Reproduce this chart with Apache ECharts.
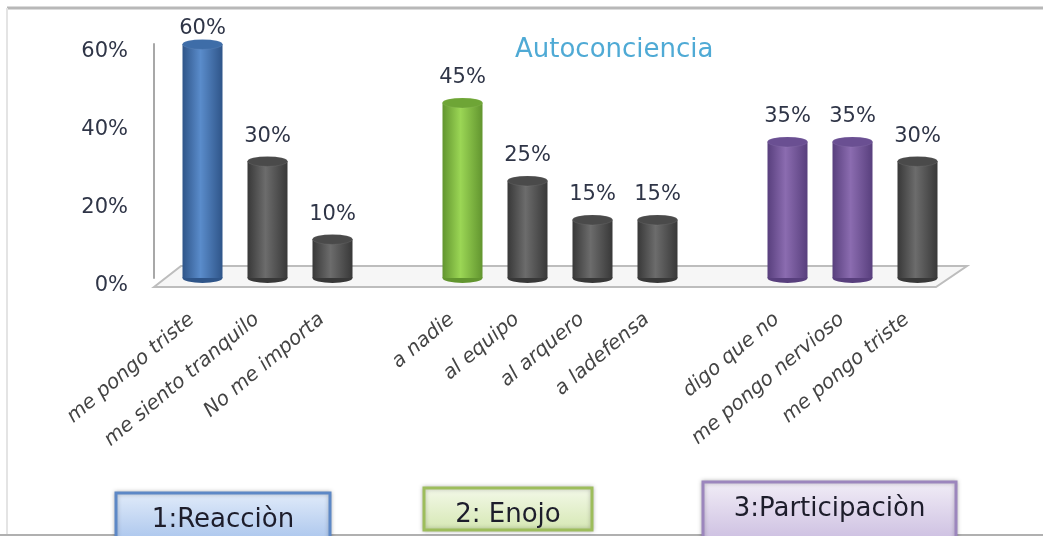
<!DOCTYPE html>
<html>
<head>
<meta charset="utf-8">
<script src="https://cdn.jsdelivr.net/npm/echarts@6/dist/echarts.min.js"></script>
<style>
  html, body { margin: 0; padding: 0; background: #fff; }
  #chart { width: 1043px; height: 536px; }
</style>
</head>
<body>
<div id="chart"></div>
<script>
// data ('' / null = gap between the groups)
var categories = ['me pongo triste', 'me siento tranquilo', 'No me importa', '',
  'a nadie', 'al equipo', 'al arquero', 'a ladefensa', '',
  'digo que no', 'me pongo nervioso', 'me pongo triste'];
var values = [60, 30, 10, null, 45, 25, 15, 15, null, 35, 35, 30];
var yTicks = [0, 20, 40, 60];
var groupNames = ['1:Reacciòn', '2: Enojo', '3:Participaciòn'];

// which bars get a colour instead of grey
var highlight = { 0: 'blue', 4: 'green', 9: 'purple', 10: 'purple' };

var palette = {
  gray:   { edge: '#383838', mid: '#6c6c6c', cap: '#4a4a4a', rim: '#d2d2d2' },
  blue:   { edge: '#2f5589', mid: '#5a8ccb', cap: '#3e6da8', rim: '#c9d6e8' },
  green:  { edge: '#62952f', mid: '#9bd655', cap: '#6ea536', rim: '#d0e8b0' },
  purple: { edge: '#583f7d', mid: '#8b6cb0', cap: '#6a4f92', rim: '#d6cbe4' }
};

function pal(i) { return palette[highlight[i] || 'gray']; }

var font = 'DejaVu Sans';
var maxVal = Math.max.apply(null, values.filter(function (v) { return v != null; }));

var barData = values.map(function (v, i) {
  if (v == null) return null;
  var p = pal(i);
  var d = {
    value: v,
    itemStyle: {
      color: new echarts.graphic.LinearGradient(0, 0, 1, 0, [
        { offset: 0, color: p.edge },
        { offset: 0.45, color: p.mid },
        { offset: 1, color: p.edge }
      ])
    }
  };
  // the tallest label sits squeezed under the top border
  if (v === maxVal) d.label = { distance: 5 };
  return d;
});
var capData = values.map(function (v, i) {
  if (v == null) return null;
  var p = pal(i);
  return { value: v, itemStyle: { color: p.cap, borderColor: p.rim, borderWidth: 1.5 } };
});
var baseData = values.map(function (v, i) {
  if (v == null) return null;
  return { value: v, itemStyle: { color: pal(i).edge } };
});

var boxStyle = [
  { x: 116, y: 493, w: 214, h: 50, top: '#e2ecfa', bottom: '#a7c3ec', stroke: '#5d88c6' },
  { x: 424, y: 488, w: 168, h: 42, top: '#f4f9ea', bottom: '#d5e7b2', stroke: '#9dbd5c' },
  { x: 703, y: 482, w: 253, h: 60, top: '#f2eef7', bottom: '#cbbde0', stroke: '#9c86bd' }
];
var boxes = [];
groupNames.forEach(function (name, i) {
  var b = boxStyle[i];
  boxes.push({
    type: 'rect',
    shape: { x: b.x, y: b.y, width: b.w, height: b.h },
    style: {
      fill: new echarts.graphic.LinearGradient(0, 0, 0, 1, [
        { offset: 0, color: b.top }, { offset: 1, color: b.bottom }
      ]),
      stroke: b.stroke, lineWidth: 3,
      shadowBlur: 4, shadowColor: 'rgba(0,0,0,0.25)'
    },
    z: 5
  });
  boxes.push({
    type: 'text',
    x: b.x + b.w / 2, y: b.y + 27,
    style: {
      text: name, fill: '#1d1d2b', font: '26px "DejaVu Sans"',
      textAlign: 'center', textVerticalAlign: 'middle'
    },
    z: 6
  });
});

var chart = echarts.init(document.getElementById('chart'));
chart.setOption({
  animation: false,
  title: {
    text: 'Autoconciencia',
    left: 510, top: 32,
    textStyle: { color: '#4faad5', fontSize: 26, fontWeight: 'normal', fontFamily: font }
  },
  grid: { left: 170, right: 93, top: 44, bottom: 258 },
  xAxis: {
    type: 'category',
    data: categories,
    axisLine: { show: false },
    axisTick: { show: false },
    axisLabel: {
      interval: 0, rotate: 40, margin: 30,
      padding: [0, 14, 0, 0],
      color: '#444', fontSize: 20, fontStyle: 'italic', fontFamily: font
    }
  },
  yAxis: {
    type: 'value',
    min: yTicks[0], max: yTicks[yTicks.length - 1], interval: 20,
    offset: 16,
    splitLine: { show: false },
    axisTick: { show: false },
    axisLine: { show: true, lineStyle: { color: '#a8a8a8', width: 2 } },
    axisLabel: {
      formatter: '{value}%', margin: 26,
      verticalAlign: 'top', lineHeight: 16,
      color: '#2f3547', fontSize: 21, fontFamily: font
    }
  },
  graphic: [
    { type: 'line', shape: { x1: 7, y1: 8, x2: 1043, y2: 8 }, style: { stroke: '#b8b8b8', lineWidth: 3 } },
    { type: 'line', shape: { x1: 7, y1: 8, x2: 7, y2: 536 }, style: { stroke: '#e4e4e4', lineWidth: 2 } },
    { type: 'line', shape: { x1: 0, y1: 535, x2: 1043, y2: 535 }, style: { stroke: '#b0b0b0', lineWidth: 2 } },
    {
      type: 'polygon',
      shape: { points: [[154, 287], [181, 266], [967, 266], [936, 287]] },
      style: { fill: '#f6f6f6', stroke: '#bdbdbd', lineWidth: 2 },
      z: 0
    }
  ].concat(boxes),
  series: [
    {
      type: 'pictorialBar',
      data: baseData,
      symbol: 'circle',
      symbolSize: [40, 10],
      symbolOffset: [0, '50%'],
      z: 1
    },
    {
      type: 'bar',
      data: barData,
      barWidth: 40,
      z: 2,
      label: {
        show: true, position: 'top', distance: 14,
        formatter: '{c}%',
        color: '#2f3547', fontSize: 21, fontFamily: font
      }
    },
    {
      type: 'pictorialBar',
      data: capData,
      symbol: 'circle',
      symbolSize: [40, 10],
      symbolPosition: 'end',
      symbolOffset: [0, '-50%'],
      z: 3
    }
  ]
});
</script>
</body>
</html>
